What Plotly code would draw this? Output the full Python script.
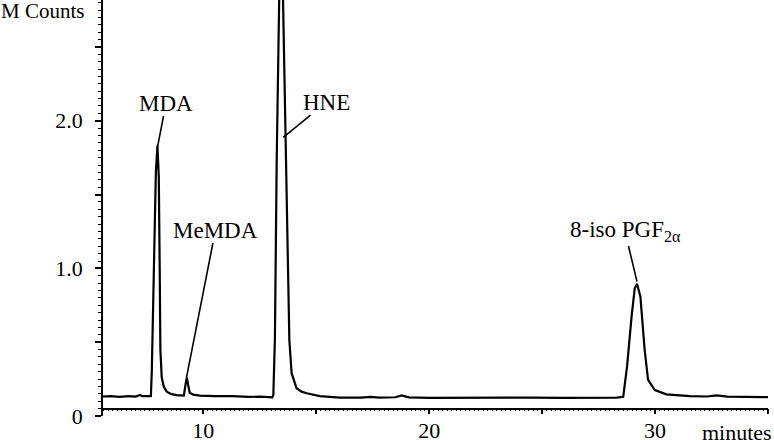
import plotly.graph_objects as go

# ---- data ----
time_min = [5.56, 5.9, 6.3, 6.7, 7.0, 7.2, 7.3, 7.5, 7.68,
            7.72, 7.78, 7.84, 7.90, 7.97, 8.03, 8.07, 8.10, 8.16, 8.25, 8.38, 8.6, 8.82, 9.0, 9.14,
            9.20, 9.27, 9.33, 9.40, 9.55, 9.85, 10.5, 11.3, 12.0, 12.5, 13.05,
            13.10, 13.17, 13.25, 13.36, 13.44, 13.53, 13.66, 13.81, 13.91, 14.13, 14.35, 14.58, 15.16, 16.05,
            17.0, 17.4, 17.8, 18.5, 18.78, 19.1, 20.0, 21.5, 23.0, 24.5, 26.0, 27.5, 28.3, 28.59,
            28.76, 28.96, 29.10, 29.20, 29.35, 29.54, 29.69, 29.99, 30.5, 31.54, 32.3, 32.72, 33.2, 34.0, 35.0]
counts_M = [0.132, 0.135, 0.130, 0.134, 0.131, 0.142, 0.134, 0.136, 0.135,
            0.30, 0.75, 1.25, 1.65, 1.83, 1.62, 1.00, 0.45, 0.26, 0.20, 0.165, 0.148, 0.142, 0.140, 0.139,
            0.20, 0.262, 0.21, 0.158, 0.145, 0.138, 0.134, 0.135, 0.129, 0.131, 0.126,
            0.14, 0.52, 1.73, 2.82, 3.0, 2.82, 1.73, 0.515, 0.29, 0.188, 0.165, 0.154, 0.135, 0.125,
            0.124, 0.130, 0.124, 0.127, 0.140, 0.126, 0.123, 0.125, 0.122, 0.124, 0.123, 0.126, 0.124, 0.13,
            0.334, 0.673, 0.865, 0.895, 0.81, 0.447, 0.244, 0.176, 0.147, 0.135, 0.132, 0.14, 0.131, 0.129, 0.128]

peak_names = ["MDA", "MeMDA", "HNE", "8-iso PGF<sub>2α</sub>"]
peak_time = [7.97, 9.26, 13.54, 29.2]
peak_mark = [1.82, 0.264, 1.888, 0.91]

x_title = "minutes"
y_title = "M Counts"

# ---- layout / styling ----
FONT = "Liberation Serif, Times New Roman, serif"
label_pos = [(8.35, 2.12), (10.54, 1.26), (15.45, 2.127), (28.67, 1.25)]

fig = go.Figure()
fig.add_trace(go.Scatter(x=time_min, y=counts_M, mode="lines",
                         line=dict(color="black", width=2.2), hoverinfo="skip"))

for name, t, v, (lx, ly) in zip(peak_names, peak_time, peak_mark, label_pos):
    fig.add_annotation(x=t, y=v, xref="x", yref="y", ax=lx, ay=ly, axref="x", ayref="y",
                       text=name, showarrow=True, arrowhead=0, arrowwidth=1.6,
                       arrowcolor="black", font=dict(family=FONT, size=23, color="black"),
                       borderpad=0)

fig.add_annotation(x=-0.026, y=0.974, xref="paper", yref="paper", xanchor="right", yanchor="middle",
                   text=y_title, showarrow=False, font=dict(family=FONT, size=21, color="black"))
fig.add_annotation(x=1.009, y=-0.04, xref="paper", yref="paper", xanchor="right", yanchor="middle",
                   text=x_title, showarrow=False, font=dict(family=FONT, size=22, color="black"))

fig.update_layout(
    width=774, height=440,
    margin=dict(l=103, r=6, t=0, b=24, autoexpand=False),
    paper_bgcolor="white", plot_bgcolor="white",
    showlegend=False,
    font=dict(family=FONT, size=22, color="black"),
    xaxis=dict(range=[5.56, 35.0], anchor="free", position=0.018, automargin=False,
               showgrid=False, zeroline=False, showline=True, linecolor="black", linewidth=1.8,
               tickmode="linear", tick0=0, dtick=5, ticklabelstep=2,
               ticks="outside", ticklen=5, tickwidth=1.5, tickcolor="black",
               ticklabelstandoff=-3,
               minor=dict(dtick=0.2, ticks="outside", ticklen=2, tickwidth=1, tickcolor="black")),
    yaxis=dict(range=[0, 2.818], automargin=False, showgrid=False, zeroline=False, showline=True,
               linecolor="black", linewidth=1.8,
               tickmode="linear", tick0=0, dtick=0.5, ticklabelstep=2,
               tickformat=".1f", labelalias={"0.0": "0"},
               ticks="outside", ticklen=6, tickwidth=1.5, tickcolor="black",
               ticklabelstandoff=8,
               minor=dict(dtick=0.05, ticks="outside", ticklen=3, tickwidth=1, tickcolor="black")),
)

fig.write_html("out.html", config={"displayModeBar": False},
               post_script="document.body.style.margin='0';document.body.style.overflow='hidden';")
